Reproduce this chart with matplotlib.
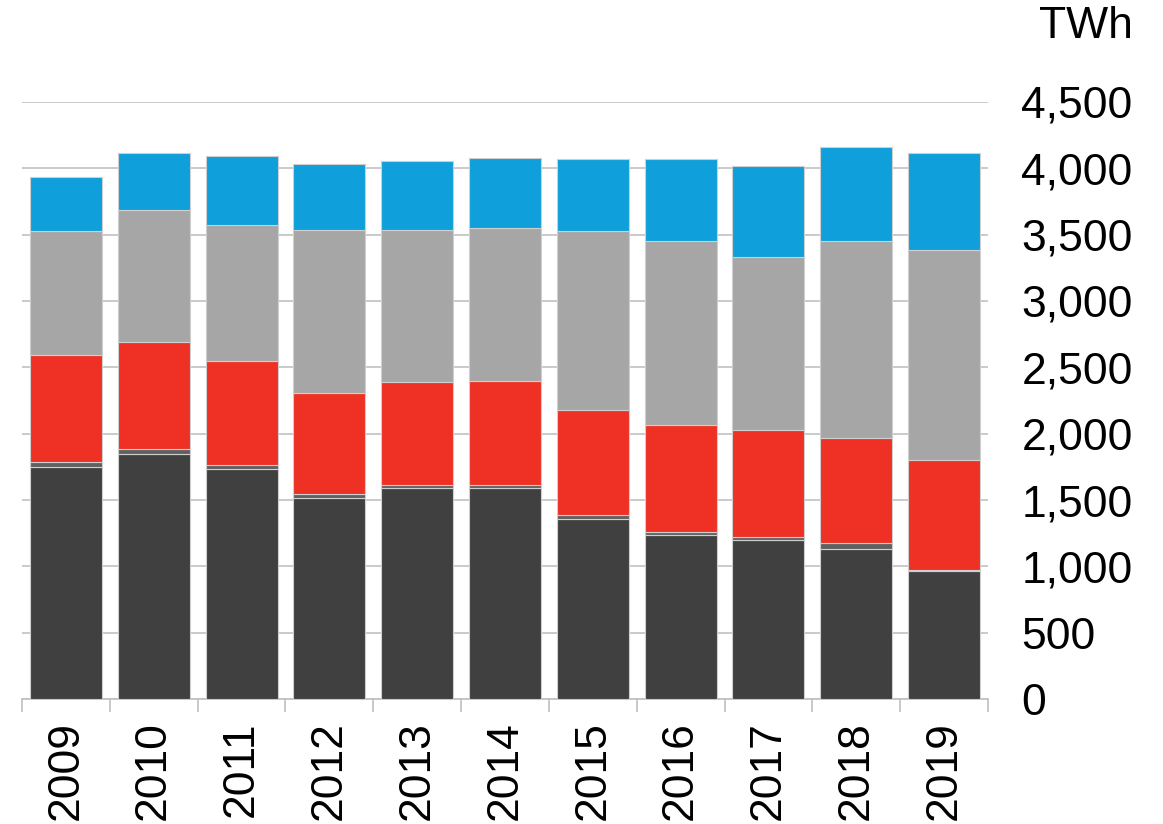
import matplotlib.pyplot as plt
import numpy as np

# Stromerzeugung nach Energieträger, TWh
years = ["2009", "2010", "2011", "2012", "2013", "2014", "2015", "2016", "2017", "2018", "2019"]
coal = [1750, 1849, 1734, 1515, 1590, 1590, 1357, 1234, 1196, 1133, 965]
oil = [39, 33, 30, 30, 23, 23, 30, 25, 25, 40, 10]
nuclear = [804, 809, 784, 761, 776, 784, 791, 806, 809, 797, 824]
gas = [934, 995, 1025, 1229, 1146, 1153, 1349, 1387, 1302, 1482, 1585]
renewables = [408, 429, 520, 498, 520, 528, 543, 618, 685, 709, 731]

series = [coal, oil, nuclear, gas, renewables]
colors = ["#404040", "#606060", "#ee3124", "#a6a6a6", "#0f9fda"]

plt.rcParams["font.family"] = ["Liberation Sans", "DejaVu Sans"]

fig = plt.figure(figsize=(11.63, 8.24), dpi=100)
ax = fig.add_axes([22 / 1163, 1 - 699 / 824, 966 / 1163, (699 - 102) / 824])

x = np.arange(len(years))
bottom = np.zeros(len(years))
for vals, c in zip(series, colors):
    ax.bar(x, vals, width=0.82, bottom=bottom, color=c,
           edgecolor="#cfcfcf", linewidth=0.8, zorder=3)
    bottom += np.array(vals)

ax.set_xlim(-0.5, len(years) - 0.5)
ax.set_ylim(0, 4500)
ax.set_yticks(np.arange(0, 4501, 500))
ax.set_yticklabels([f"{v:,}" for v in range(0, 4501, 500)])
ax.yaxis.tick_right()
ax.tick_params(axis="y", length=0, pad=24, labelsize=32)
ax.grid(axis="y", color="#c6c6c6", linewidth=1.3, zorder=0)

# Jahreszahlen mittig, Teilstriche zwischen den Balken
ax.set_xticks(x)
ax.set_xticklabels(years, rotation=90, fontsize=32)
ax.tick_params(axis="x", which="major", length=0, pad=16)
ax.set_xticks(np.arange(-0.5, len(years)), minor=True)
ax.tick_params(axis="x", which="minor", length=9, width=1.2, color="#bfbfbf")

for s in ["top", "left", "right"]:
    ax.spines[s].set_visible(False)
ax.spines["bottom"].set_color("#bfbfbf")
ax.spines["bottom"].set_linewidth(1.2)

fig.text(1133 / 1163, 1 - 26 / 824, "TWh", fontsize=32, ha="right", va="center")

fig.savefig("out.png", dpi=100)
